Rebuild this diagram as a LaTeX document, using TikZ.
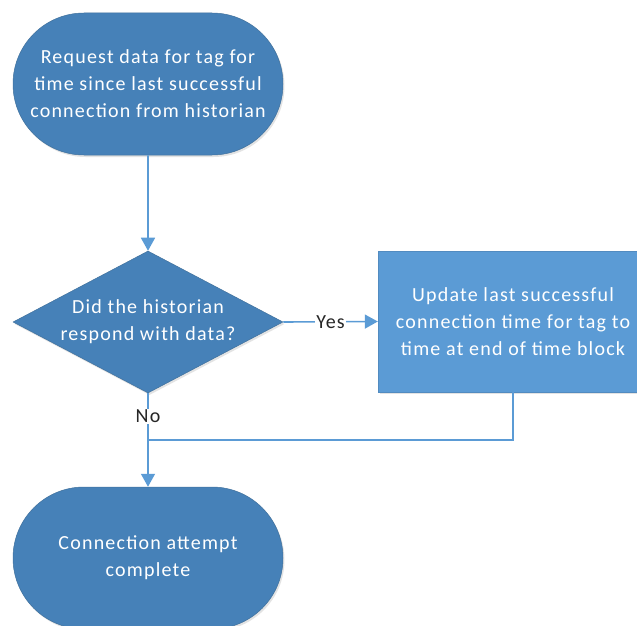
\documentclass[tikz,border=0pt]{standalone}
\usepackage{fontspec}
\setmainfont{Carlito}[LetterSpace=6]
\usetikzlibrary{shapes.geometric,shapes.misc,arrows.meta,shadows}
\definecolor{darkfill}{HTML}{4681B8}
\definecolor{darkedge}{HTML}{41719C}
\definecolor{lightfill}{HTML}{5B9BD5}
\definecolor{flowline}{HTML}{5B9BD5}
\tikzset{
  softshadow/.style={drop shadow={shadow xshift=1.5pt,shadow yshift=-2pt,opacity=0.18,fill=black!60}},
  boxtext/.style={text=white, align=center, font=\fontsize{20}{27}\selectfont},
  terminal/.style={rounded rectangle, minimum width=270pt, minimum height=142pt, inner sep=0pt,
    fill=darkfill, draw=darkedge, line width=0.5pt, softshadow, boxtext},
  decision/.style={diamond, aspect=1.9, minimum width=270pt, minimum height=142pt, inner sep=0pt,
    fill=darkfill, draw=darkedge, line width=0.5pt, softshadow, boxtext},
  process/.style={rectangle, minimum width=270pt, minimum height=141pt, inner sep=0pt,
    fill=lightfill, draw=lightfill!90!black, line width=0.4pt, softshadow, boxtext},
  flow/.style={draw=flowline, line width=1.6pt, -{Triangle[length=13pt,width=14pt]}},
  plainflow/.style={draw=flowline, line width=1.6pt},
  branch/.style={fill=white, inner sep=1pt, text=black!85, font=\fontsize{20}{22}\selectfont}
}
\begin{document}
\begin{tikzpicture}[x=1pt,y=-1pt]
  \useasboundingbox (0,0) rectangle (637,626);
  \clip (0,0) rectangle (637,626);

  \node[terminal] (start) at (148,84)
    {Request data for tag for\\time since last successful\\connection from historian};
  \node[decision] (ask) at (148,322)
    {Did the historian\\respond with data?};
  \node[process] (update) at (513,321.5)
    {Update last successful\\connection time for tag to\\time at end of time block};
  \node[terminal] (done) at (148,558)
    {Connection attempt\\complete};

  \coordinate (join) at (148,440);
  \coordinate (turn) at (update.south |- join);

  \draw[flow] (start) -- (ask);
  \draw[flow] (ask.east) -- node[branch, pos=0.5] {Yes} (update.west);
  \draw[plainflow] (ask.south) -- node[branch, pos=0.5] {No} (join);
  \draw[plainflow] (update.south) -- (turn) -- (join);
  \draw[flow] (join) -- (done.north);
\end{tikzpicture}
\end{document}
